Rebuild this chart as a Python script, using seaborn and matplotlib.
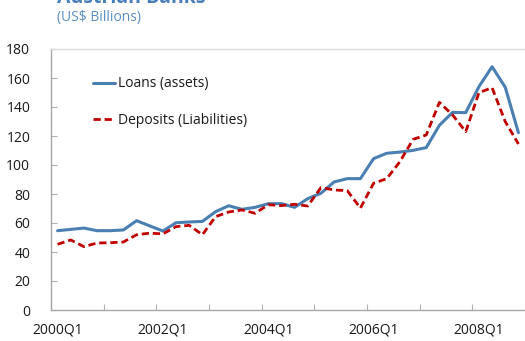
import matplotlib
matplotlib.use("Agg")
import matplotlib.pyplot as plt
import seaborn as sns
import pandas as pd
import numpy as np

# ---- data (US$ billions, quarterly 2000Q1..2008Q4) ----
loans = [54.7, 55.6, 56.5, 54.7, 54.7, 55.2, 61.6, 58.0, 54.5,
         60.2, 60.7, 61.1, 67.8, 71.9, 69.4, 70.8, 73.3, 73.4,
         70.8, 76.8, 80.5, 88.3, 90.6, 90.6, 104.4, 108.1, 108.9,
         110.1, 112.0, 127.4, 136.3, 136.1, 154.0, 167.8, 153.6, 122.3]
deposits = [45.3, 48.3, 43.7, 46.2, 46.4, 46.9, 51.9, 53.0, 52.5,
            57.5, 58.4, 51.9, 64.4, 67.6, 69.0, 66.7, 72.6, 72.0,
            72.9, 71.7, 84.4, 82.8, 82.3, 70.3, 87.4, 90.6, 102.3,
            117.7, 120.7, 143.2, 134.5, 123.0, 149.9, 153.3, 129.9, 114.5]
years = [2000, 2001, 2002, 2003, 2004, 2005, 2006, 2007, 2008]
quarters = [f"{y}Q{q}" for y in years for q in (1, 2, 3, 4)]
tick_labels = ["2000Q1", "2002Q1", "2004Q1", "2006Q1", "2008Q1"]
yticks = [0, 20, 40, 60, 80, 100, 120, 140, 160, 180]
series_names = ["Loans (assets)", "Deposits (Liabilities)"]

df = pd.DataFrame({"quarter": quarters, "loans": loans, "deposits": deposits})
df["pos"] = np.arange(len(df))

sns.set_theme(style="white")
plt.rcParams["font.family"] = ["Open Sans", "DejaVu Sans"]

fig = plt.figure(figsize=(5.25, 3.41), dpi=100)
ax = fig.add_axes([51/525, 1-310/341, 474/525, 261/341])

sns.lineplot(data=df, x="pos", y="loans", ax=ax, color="#4a7fb2",
             linewidth=2.2, label=series_names[0])
sns.lineplot(data=df, x="pos", y="deposits", ax=ax, color="#c00000",
             linewidth=2.0, linestyle=(0, (2.6, 1.4)), label=series_names[1])

ax.set_xlim(-0.5, len(df) - 0.5)
ax.set_ylim(0, 180)
ax.set_xlabel("")
ax.set_ylabel("")

# major ticks: yearly boundaries (marks only)
ax.set_xticks(np.arange(-0.5, len(df), 4))
ax.set_xticklabels([])
# minor ticks: labels at category centres every 8 quarters
lab_pos = [quarters.index(t) for t in tick_labels]
ax.set_xticks(lab_pos, minor=True)
ax.set_xticklabels(tick_labels, minor=True)
ax.tick_params(axis="x", which="major", direction="in", length=4,
               color="#b0b0b0", width=0.8, bottom=True)
ax.tick_params(axis="x", which="minor", length=0, pad=9,
               labelsize=10, labelcolor="#1a1a1a")

ax.set_yticks(yticks)
ax.tick_params(axis="y", direction="in", length=4, color="#b0b0b0",
               width=0.8, pad=15, labelsize=10, labelcolor="#1a1a1a", left=True)

for s in ["left", "bottom"]:
    ax.spines[s].set_color("#a8a8a8")
    ax.spines[s].set_linewidth(1.0)
ax.spines["top"].set_color("#d9d9d9")
ax.spines["top"].set_linewidth(1.0)
ax.spines["right"].set_visible(False)

leg = ax.legend(loc="upper left", bbox_to_anchor=(0.088, 0.895),
                frameon=False, fontsize=10, handlelength=1.6,
                handletextpad=0.2, labelspacing=1.55, borderpad=0,
                borderaxespad=0)
for t in leg.get_texts():
    t.set_color("#1a1a1a")

fig.text(57/525, 1 - 3/341, "Austrian Banks", fontsize=14, weight="bold",
         color="#4a7ebb", va="baseline", ha="left")
fig.text(57/525, 1 - 17/341, "(US$ Billions)", fontsize=10,
         color="#5b8ec4", va="center", ha="left")

fig.savefig("out.png", dpi=100)
